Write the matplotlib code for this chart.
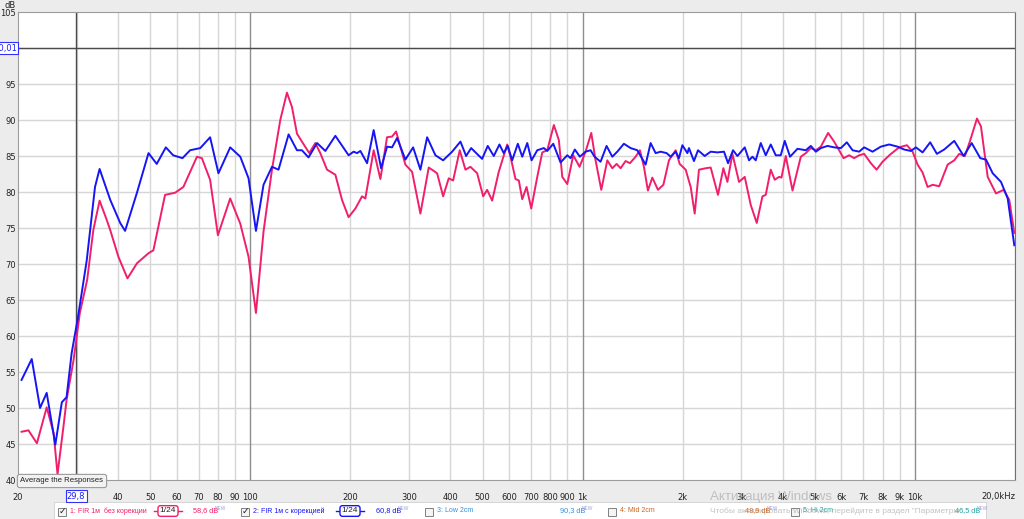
import matplotlib
matplotlib.use("Agg")
import matplotlib.pyplot as plt
from matplotlib.patches import Rectangle

# ---------------- data ----------------
blue_freq = [20.5, 22.0, 23.3, 24.4, 25.9, 27.1, 28.0, 29.0, 30.3, 32.2,
             34.1, 35.2, 37.0, 37.9, 40.6, 42.0, 45.6, 49.4, 52.3, 55.7,
             58.6, 62.5, 65.9, 70.7, 75.7, 80.2, 87.0, 93.3, 98.8, 104.0,
             109.6, 116.2, 121.6, 130.4, 138.2, 143.0, 149.7, 158.8, 168.2, 180.3,
             190.9, 197.6, 204.6, 209.5, 214.4, 224.6, 235.1, 247.5, 257.9, 267.1,
             276.5, 292.9, 309.0, 325.0, 340.5, 360.6, 380.4, 404.9, 428.9, 446.1,
             461.9, 498.4, 518.2, 540.3, 562.0, 579.0, 595.3, 613.8, 638.3, 658.1,
             681.4, 702.0, 730.3, 764.5, 782.7, 815.9, 858.2, 899.1, 919.9, 947.6,
             981.1, 1020.6, 1056.6, 1086.4, 1132.4, 1180.5, 1228.2, 1271.5, 1331.1, 1394.4,
             1460.7, 1547.3, 1601.8, 1658.4, 1717.3, 1790.0, 1840.0, 1905.3, 1949.4, 1996.0,
             2066.5, 2089.3, 2163.0, 2224.0, 2329.5, 2428.5, 2543.9, 2663.6, 2738.5, 2835.1,
             2922.8, 3074.6, 3167.7, 3243.3, 3318.4, 3435.5, 3556.1, 3681.6, 3811.5, 3946.0,
             4056.8, 4208.7, 4431.0, 4694.6, 4860.2, 5031.8, 5209.4, 5456.1, 5711.9, 5983.4,
             6237.5, 6489.2, 6793.3, 7032.0, 7453.8, 7895.1, 8362.9, 8865.6, 9280.8, 9722.1,
             10065, 10544, 11113, 11641, 12246, 13129, 14014, 14813, 15723, 16358,
             17136, 18151, 19013, 19903]
blue_db = [53.9, 56.8, 50.0, 52.1, 44.9, 50.8, 51.5, 57.6, 62.6, 70.5,
           80.7, 83.2, 80.3, 78.9, 75.7, 74.6, 79.9, 85.4, 83.9, 86.2,
           85.1, 84.7, 85.8, 86.1, 87.6, 82.6, 86.2, 84.9, 81.9, 74.6,
           81.0, 83.5, 83.1, 88.0, 85.8, 85.8, 84.8, 86.8, 85.7, 87.8,
           86.1, 85.1, 85.6, 85.4, 85.7, 84.0, 88.6, 83.3, 86.3, 86.2,
           87.5, 84.5, 86.2, 83.1, 87.6, 85.1, 84.4, 85.6, 87.0, 85.0,
           86.1, 84.6, 86.4, 85.0, 86.6, 85.4, 86.4, 84.4, 86.7, 84.9,
           86.8, 84.4, 85.8, 86.1, 85.7, 86.7, 84.1, 85.1, 84.7, 85.9,
           84.9, 85.6, 85.8, 84.9, 84.2, 86.4, 84.9, 85.6, 86.7, 86.1,
           85.8, 83.8, 86.8, 85.4, 85.6, 85.4, 84.9, 85.6, 84.7, 86.5,
           85.4, 86.1, 84.3, 85.8, 85.0, 85.6, 85.5, 85.6, 84.0, 85.8,
           85.0, 86.2, 84.4, 84.9, 84.4, 86.8, 85.1, 86.6, 85.1, 85.1,
           87.1, 84.9, 86.0, 85.8, 86.4, 85.6, 86.1, 86.4, 86.2, 86.1,
           86.9, 85.8, 85.6, 86.2, 85.6, 86.3, 86.6, 86.3, 85.9, 85.7,
           86.2, 85.5, 86.9, 85.3, 85.9, 87.1, 85.0, 86.8, 84.7, 84.5,
           82.6, 81.4, 79.1, 72.6]

red_freq = [20.5, 21.5, 22.8, 24.4, 25.6, 26.3, 27.4, 28.0, 29.4, 30.7,
            32.3, 33.7, 35.2, 37.0, 37.9, 40.1, 42.7, 45.6, 49.4, 51.1,
            55.4, 59.4, 62.9, 69.1, 71.5, 75.7, 79.9, 87.0, 93.3, 98.8,
            104.0, 109.6, 116.2, 123.1, 128.9, 133.5, 138.2, 143.0, 150.5, 156.9,
            162.4, 170.2, 180.3, 188.8, 197.6, 207.1, 216.9, 221.9, 235.1, 246.3,
            257.9, 267.1, 274.6, 292.9, 306.8, 325.0, 344.3, 364.9, 380.4, 395.5,
            407.7, 426.8, 444.0, 459.6, 481.6, 502.0, 516.1, 534.3, 559.3, 592.9,
            606.7, 628.1, 642.7, 658.1, 678.1, 700.5, 730.3, 756.1, 782.7, 819.3,
            848.3, 868.5, 899.1, 937.2, 979.0, 1020.6, 1061.8, 1093.9, 1138.0, 1186.3,
            1228.2, 1265.4, 1301.0, 1346.9, 1387.8, 1443.6, 1487.2, 1529.1, 1572.0, 1620.8,
            1685.5, 1749.7, 1819.0, 1905.3, 1958.8, 2042.1, 2114.3, 2173.7, 2239.3, 2346.0,
            2428.5, 2554.5, 2651.7, 2727.0, 2823.1, 2955.5, 3074.6, 3205.4, 3341.6, 3476.4,
            3556.1, 3681.6, 3785.3, 3900.2, 3965.8, 4086.2, 4280.8, 4534.3, 4694.6, 4860.2,
            5031.8, 5209.4, 5478.9, 5711.9, 5913.1, 6097.6, 6338.2, 6561.4, 6793.3, 7032.0,
            7366.3, 7664.3, 7989.3, 8421.0, 8964.0, 9457.5, 9838.1, 10186, 10544, 10915,
            11301, 11830, 12541, 13129, 13592, 14140, 14670, 15368, 15799, 16552,
            17530, 18492, 19224, 19903]
red_db = [46.7, 46.9, 45.1, 50.1, 46.5, 40.8, 47.4, 51.1, 56.7, 63.2,
          67.8, 74.7, 78.8, 76.1, 74.7, 71.0, 68.0, 70.1, 71.5, 71.9,
          79.6, 79.9, 80.7, 84.9, 84.7, 81.7, 74.0, 79.1, 75.6, 71.0,
          63.2, 74.5, 83.1, 90.0, 93.8, 91.8, 88.1, 87.0, 85.4, 86.8,
          85.4, 83.1, 82.4, 78.9, 76.5, 77.7, 79.4, 79.1, 85.8, 81.8,
          87.6, 87.7, 88.4, 83.8, 82.8, 77.0, 83.4, 82.6, 79.4, 81.9,
          81.6, 85.8, 83.1, 83.5, 82.6, 79.4, 80.3, 78.8, 82.8, 86.6,
          84.9, 81.8, 81.6, 79.0, 80.7, 77.7, 82.1, 85.5, 85.8, 89.3,
          87.2, 82.1, 81.1, 85.1, 83.5, 85.6, 88.2, 84.4, 80.3, 84.4,
          83.3, 83.9, 83.3, 84.3, 84.0, 84.9, 85.8, 83.5, 80.2, 82.0,
          80.3, 81.0, 84.4, 85.8, 83.9, 83.1, 80.7, 77.0, 83.1, 83.3,
          83.4, 79.6, 83.3, 81.4, 85.3, 81.4, 82.1, 78.2, 75.7, 79.4,
          79.6, 83.1, 81.7, 82.1, 82.0, 85.0, 80.2, 84.9, 85.4, 86.1,
          85.8, 86.3, 88.2, 87.0, 85.8, 84.7, 85.1, 84.7, 85.1, 85.3,
          84.0, 83.1, 84.2, 85.2, 86.2, 86.5, 85.6, 83.8, 82.7, 80.7,
          81.0, 80.8, 83.8, 84.4, 85.3, 85.0, 87.2, 90.2, 89.1, 82.1,
          79.8, 80.3, 78.9, 74.3]

x_ticks = [20, 40, 50, 60, 70, 80, 90, 100, 200, 300, 400, 500, 600, 700, 800, 900,
           1000, 2000, 3000, 4000, 5000, 6000, 7000, 8000, 9000, 10000, 20000]
x_tick_labels = ["20", "40", "50", "60", "70", "80", "90", "100", "200", "300", "400",
                 "500", "600", "700", "800", "900", "1k", "2k", "3k", "4k", "5k", "6k",
                 "7k", "8k", "9k", "10k", "20,0kHz"]
grid_freqs = [30, 40, 50, 60, 70, 80, 90, 200, 300, 400, 500, 600, 700, 800, 900,
              2000, 3000, 4000, 5000, 6000, 7000, 8000, 9000, 20000]
decade_freqs = [100, 1000, 10000]
y_ticks = [40, 45, 50, 55, 60, 65, 70, 75, 80, 85, 90, 95, 105]
cursor_freq = 29.8
cursor_db = 100.01

legend_names = ["1: FIR 1м  без корекции", "2: FIR 1м с корекцией", "3: Low 2cm",
                "4: Mid 2cm", "5: Hi 2cm"]
legend_levels = ["58,6 dB", "60,8 dB", "90,3 dB", "48,9 dB", "46,5 dB"]

RED = "#f21e6c"
BLUE = "#1515f5"
LFONT = ["Liberation Sans", "DejaVu Sans"]

W, H = 1024, 519
fig = plt.figure(figsize=(W / 100, H / 100), dpi=100, facecolor="#ececec")

def fx(px):
    return px / W

def fy(py):
    return 1 - py / H

ax = fig.add_axes([fx(18), fy(480), 997 / W, 468 / H])
ax.set_facecolor("white")
ax.set_xscale("log")
ax.set_xlim(20, 20000)
ax.set_ylim(40, 105)

for f in grid_freqs:
    ax.axvline(f, color="#d6d6d6", lw=1.0, zorder=1)
for f in decade_freqs:
    ax.axvline(f, color="#8e8e8e", lw=1.0, zorder=1.2)
for v in range(45, 105, 5):
    ax.axhline(v, color="#d6d6d6", lw=1.0, zorder=1)

ax.axvline(cursor_freq, color="#4a4a4a", lw=1.0, zorder=1.5)
ax.axhline(cursor_db, color="#4a4a4a", lw=1.0, zorder=1.5)

ax.plot(red_freq, red_db, color=RED, lw=1.4, zorder=3, solid_joinstyle="round")
ax.plot(blue_freq, blue_db, color=BLUE, lw=1.4, zorder=4, solid_joinstyle="round")

ax.set_xticks(x_ticks)
ax.set_xticklabels(x_tick_labels)
ax.xaxis.set_minor_locator(matplotlib.ticker.NullLocator())
ax.set_yticks(y_ticks)
ax.set_yticklabels([str(v) for v in y_ticks])
ax.tick_params(axis="both", length=0, labelsize=6, colors="#222222")
ax.tick_params(axis="x", pad=9)
ax.tick_params(axis="y", pad=1.5)
lbls = ax.get_xticklabels()
lbls[-1].set_horizontalalignment("right")

for s in ["left", "bottom", "top"]:
    ax.spines[s].set_color("#9c9c9c")
ax.spines["right"].set_color("#707070")

fig.text(fx(10), fy(6), "dB", fontsize=6, ha="center", va="center", color="#222222")

fig.text(fx(17), fy(48), "100,01", fontsize=6, ha="right", va="center", color="#1a1aff",
         bbox=dict(boxstyle="square,pad=0.15", fc="white", ec="#3030ff", lw=0.8))
fig.text(fx(76), fy(496), "29,8", fontsize=6, ha="center", va="center", color="#1a1aff",
         bbox=dict(boxstyle="square,pad=0.15", fc="white", ec="#3030ff", lw=0.8))

fig.text(fx(62), fy(481), "Average the Responses", fontsize=5.6, ha="center", va="center",
         color="#222222", family=LFONT,
         bbox=dict(boxstyle="round,pad=0.4,rounding_size=0.3", fc="#f2f2f2", ec="#9a9a9a", lw=0.8),
         zorder=10)

fig.patches.append(Rectangle((fx(54), 0), fx(986) - fx(54), fy(502), transform=fig.transFigure,
                             fc="white", ec="#d0d0d0", lw=0.6, zorder=0))

LY = fy(511)

def checkbox(px, checked):
    fig.patches.append(Rectangle((fx(px), fy(515.5)), 8 / W, 8 / H, transform=fig.transFigure,
                                 fc="#f4f4f4", ec="#808080", lw=0.7, zorder=2))
    if checked:
        fig.text(fx(px + 4), fy(511.5), "\u2713", fontsize=6.5, ha="center", va="center",
                 color="#202020", zorder=3)

def smooth_box(px, color):
    fig.add_artist(plt.Line2D([fx(px - 5), fx(px + 23)], [LY, LY], transform=fig.transFigure,
                              color=color, lw=1.0))
    fig.text(fx(px + 9), LY, "1/24", fontsize=6, ha="center", va="center", color="#202020",
             family=LFONT,
             bbox=dict(boxstyle="round,pad=0.22,rounding_size=0.3", fc="white", ec=color, lw=1.0))

def new_mark(px):
    fig.text(fx(px), fy(508), "NEW", fontsize=3.5, ha="left", va="center", color="#a0a0e0",
             family=LFONT)

def item(cb_x, checked, name_x, name, color, lvl_x, lvl):
    checkbox(cb_x, checked)
    fig.text(fx(name_x), LY, name, fontsize=5.0, ha="left", va="center", color=color, family=LFONT)
    fig.text(fx(lvl_x), LY, lvl, fontsize=5.3, ha="left", va="center", color=color, family=LFONT)
    new_mark(lvl_x + 22)

item(58, True, 70, legend_names[0], RED, 193, legend_levels[0])
smooth_box(159, RED)
item(241, True, 253, legend_names[1], BLUE, 376, legend_levels[1])
smooth_box(341, BLUE)
item(425, False, 437, legend_names[2], "#2f8fe0", 560, legend_levels[2])
item(608, False, 620, legend_names[3], "#c8661e", 745, legend_levels[3])
item(791, False, 803, legend_names[4], "#1fa3a0", 955, legend_levels[4])

fig.text(fx(710), fy(497), "Активация Windows", fontsize=9.5, ha="left", va="center",
         color="#9a9a9a", alpha=0.55, zorder=20, family=LFONT)
fig.text(fx(710), fy(511), "Чтобы активировать Windows, перейдите в раздел \"Параметры\".",
         fontsize=6.0, ha="left", va="center", color="#9a9a9a", alpha=0.6, zorder=20, family=LFONT)

fig.savefig("out.png", dpi=100, facecolor=fig.get_facecolor())
